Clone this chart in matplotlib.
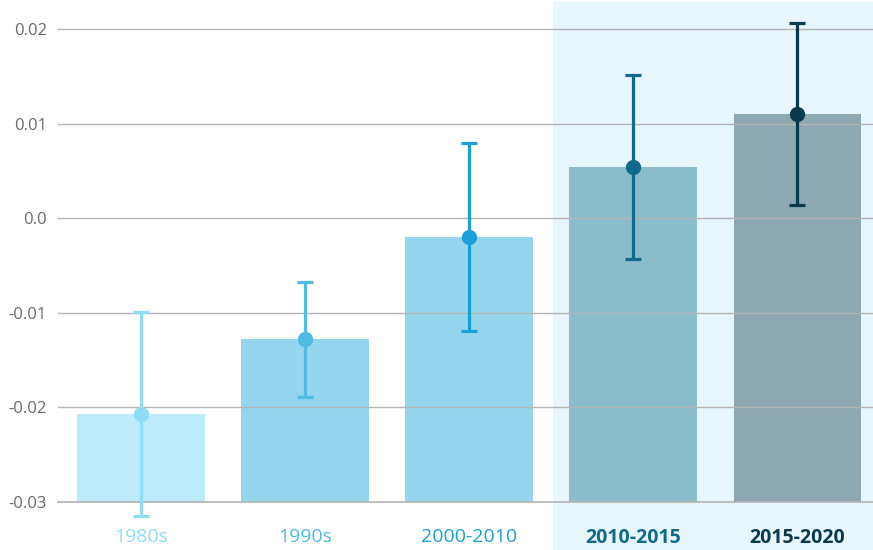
import matplotlib
matplotlib.use("Agg")
from matplotlib import pyplot as plt
from matplotlib.patches import Rectangle

periods = ["1980s", "1990s", "2000-2010", "2010-2015", "2015-2020"]
means = [-0.0207, -0.0128, -0.0020, 0.0054, 0.0110]
errors = [0.0108, 0.0061, 0.0099, 0.0097, 0.0096]
bar_colors = ["#bdebfb", "#95d6ee", "#95d6ee", "#8bbccc", "#8ba8b3"]
dot_colors = ["#8fdcf7", "#4fbbe3", "#1aa0d8", "#0f6a8c", "#0b3a4f"]
bold_labels = [False, False, False, True, True]
yticks = [-0.03, -0.02, -0.01, 0.0, 0.01, 0.02]

plt.rcParams["font.family"] = ["Open Sans", "DejaVu Sans"]

W, H = 873, 550
fig = plt.figure(figsize=(W / 100, H / 100), dpi=100)

# light band behind the two most recent periods
fig.patches.append(Rectangle((553 / W, 0), 1 - 553 / W, 1 - 2 / H,
                             transform=fig.transFigure, facecolor="#e8f6fd",
                             edgecolor="none", zorder=-5))

ax = fig.add_axes([58 / W, (H - 502) / H, 1 - 58 / W, 502 / H])
ax.patch.set_alpha(0)

x = list(range(len(periods)))
ax.bar(x, [m - (-0.03) for m in means], bottom=-0.03, width=0.775,
       color=bar_colors, zorder=2)
for i in x:
    eb = ax.errorbar(i, means[i], yerr=errors[i], fmt="o", color=dot_colors[i],
                     ms=10, elinewidth=2.3, capsize=6, capthick=2.3, zorder=4)
    for art in eb.lines[1] + eb.lines[2]:
        art.set_clip_on(False)

ax.set_xlim(-0.506, 4.463)
ax.set_ylim(-0.03, 0.02307)
ax.set_yticks(yticks)
ax.set_yticklabels(["-0.03", "-0.02", "-0.01", "0.0", "0.01", "0.02"])
ax.grid(axis="y", color="#b4b4b4", linewidth=1, zorder=3)
ax.axhline(-0.03, color="#b4b4b4", linewidth=1.2, zorder=3, clip_on=False)
ax.set_axisbelow(False)
for s in ax.spines.values():
    s.set_visible(False)
ax.tick_params(axis="y", length=0, pad=8, labelsize=12, labelcolor="#6b6b6b")
ax.tick_params(axis="x", length=0, pad=19, labelsize=14)
ax.set_xticks(x)
ax.set_xticklabels(periods)
for lbl, c, b in zip(ax.get_xticklabels(), dot_colors, bold_labels):
    lbl.set_color(c)
    if b:
        lbl.set_fontweight("bold")

fig.savefig("out.png", dpi=100)
